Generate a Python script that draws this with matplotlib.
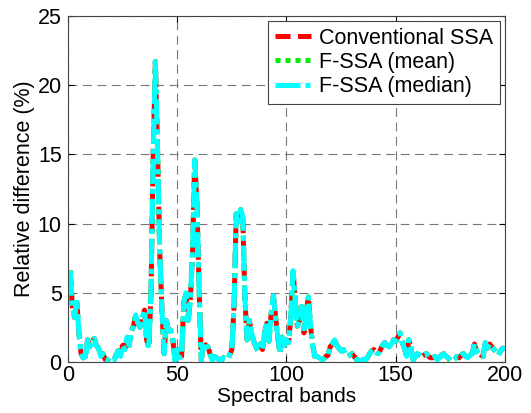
import matplotlib
matplotlib.use('Agg')
import matplotlib.pyplot as plt
import numpy as np

plt.rcParams['font.family'] = ['Liberation Sans', 'DejaVu Sans']

# relative difference (%) per spectral band, bands 1..200
conventional = [
    6.6, 4.0, 3.2, 4.5, 2.1, 0.6, 0.3, 0.4, 1.6, 1.1,
    1.4, 1.7, 1.2, 1.0, 0.4, 0.6, 0.2, 0.1, 0.3, 0.1,
    0.1, 0.5, 0.8, 0.4, 1.2, 0.9, 1.8, 1.2, 2.2, 2.6,
    3.4, 2.8, 2.5, 3.2, 3.75, 1.6, 1.0, 5.0, 15.0, 21.7,
    15.3, 7.9, 3.75, 0.6, 3.0, 2.2, 2.3, 1.6, 0.1, 0.9,
    0.3, 0.4, 4.3, 5.0, 3.0, 4.5, 7.9, 14.6, 11.5, 5.4,
    0.1, 1.4, 1.2, 1.1, 0.6, 0.1, 0.4, 0.3, 0.2, 0.1,
    0.3, 0.3, 0.2, 0.5, 0.9, 4.0, 10.7, 9.8, 11.0, 10.5,
    4.5, 1.6, 3.0, 2.1, 1.5, 1.1, 0.8, 1.3, 0.9, 2.1,
    2.8, 1.5, 3.5, 4.8, 3.3, 1.8, 0.6, 1.8, 1.2, 1.6,
    1.4, 3.3, 6.6, 4.5, 2.6, 3.0, 4.0, 2.1, 3.5, 4.7,
    2.6, 1.2, 0.4, 0.4, 0.3, 0.2, 0.2, 0.4, 0.5, 1.1,
    1.3, 1.6, 1.2, 1.0, 0.8, 0.9, 0.6, 0.4, 0.5, 0.6,
    0.4, 0.2, 0.1, 0.0, 0.2, 0.15, 0.3, 0.6, 0.8, 0.9,
    0.7, 0.6, 0.9, 1.2, 1.4, 1.2, 1.1, 1.3, 1.6, 1.5,
    1.8, 2.1, 1.4, 1.0, 0.4, 1.6, 1.0, 0.15, 0.4, 0.6,
    0.5, 0.4, 0.5, 0.6, 0.4, 0.3, 0.3, 0.4, 0.15, 0.3,
    0.5, 0.6, 0.4, 0.3, 0.1, 0.05, 0.2, 0.4, 0.3, 0.5,
    0.6, 0.4, 0.3, 0.5, 0.6, 1.3, 0.8, 0.6, 0.5, 0.4,
    1.4, 1.0, 1.3, 1.1, 0.9, 0.7, 0.5, 0.8, 1.0, 0.9,
]
# the F-SSA curves lie on top of the conventional one in the figure
fssa_mean = list(conventional)
fssa_median = list(conventional)

bands = np.arange(1, len(conventional) + 1)
xticks = [0, 50, 100, 150, 200]
yticks = [0, 5, 10, 15, 20, 25]

fig = plt.figure(figsize=(5.31, 4.13), dpi=100)
ax = fig.add_axes([0.128, 0.1235, 0.823, 0.838])

ax.plot(bands, conventional, color='red', lw=3.6, ls=(0, (3, 1.5)), label='Conventional SSA')
ax.plot(bands, fssa_mean, color='#00ee00', lw=3.6, ls=(0, (1, 1)), label='F-SSA (mean)')
ax.plot(bands, fssa_median, color='cyan', lw=3.6, ls=(0, (5, 1, 1, 1)), label='F-SSA (median)')

ax.set_xlim(0, 200)
ax.set_ylim(0, 25)
ax.set_xticks(xticks)
ax.set_yticks(yticks)
ax.tick_params(direction='in', labelsize=15.5, length=4, top=True, right=True)
ax.tick_params(axis='x', pad=2.5)
ax.tick_params(axis='y', pad=4.5)
ax.grid(True, color='#777777', ls=(0, (8, 5)), lw=0.8)
for s in ax.spines.values():
    s.set_color('#444444')

ax.set_xlabel('Spectral bands', fontsize=15, labelpad=0.5)
ax.set_ylabel('Relative difference (%)', fontsize=15.5, labelpad=2)

leg = ax.legend(loc='upper right', fontsize=15.5, handlelength=1.7, handletextpad=0.35,
                borderaxespad=0.25, borderpad=0.3, fancybox=False, framealpha=1,
                edgecolor='#444444', labelspacing=0.15)
leg.get_frame().set_linewidth(0.8)

fig.savefig('out.png', dpi=100)
